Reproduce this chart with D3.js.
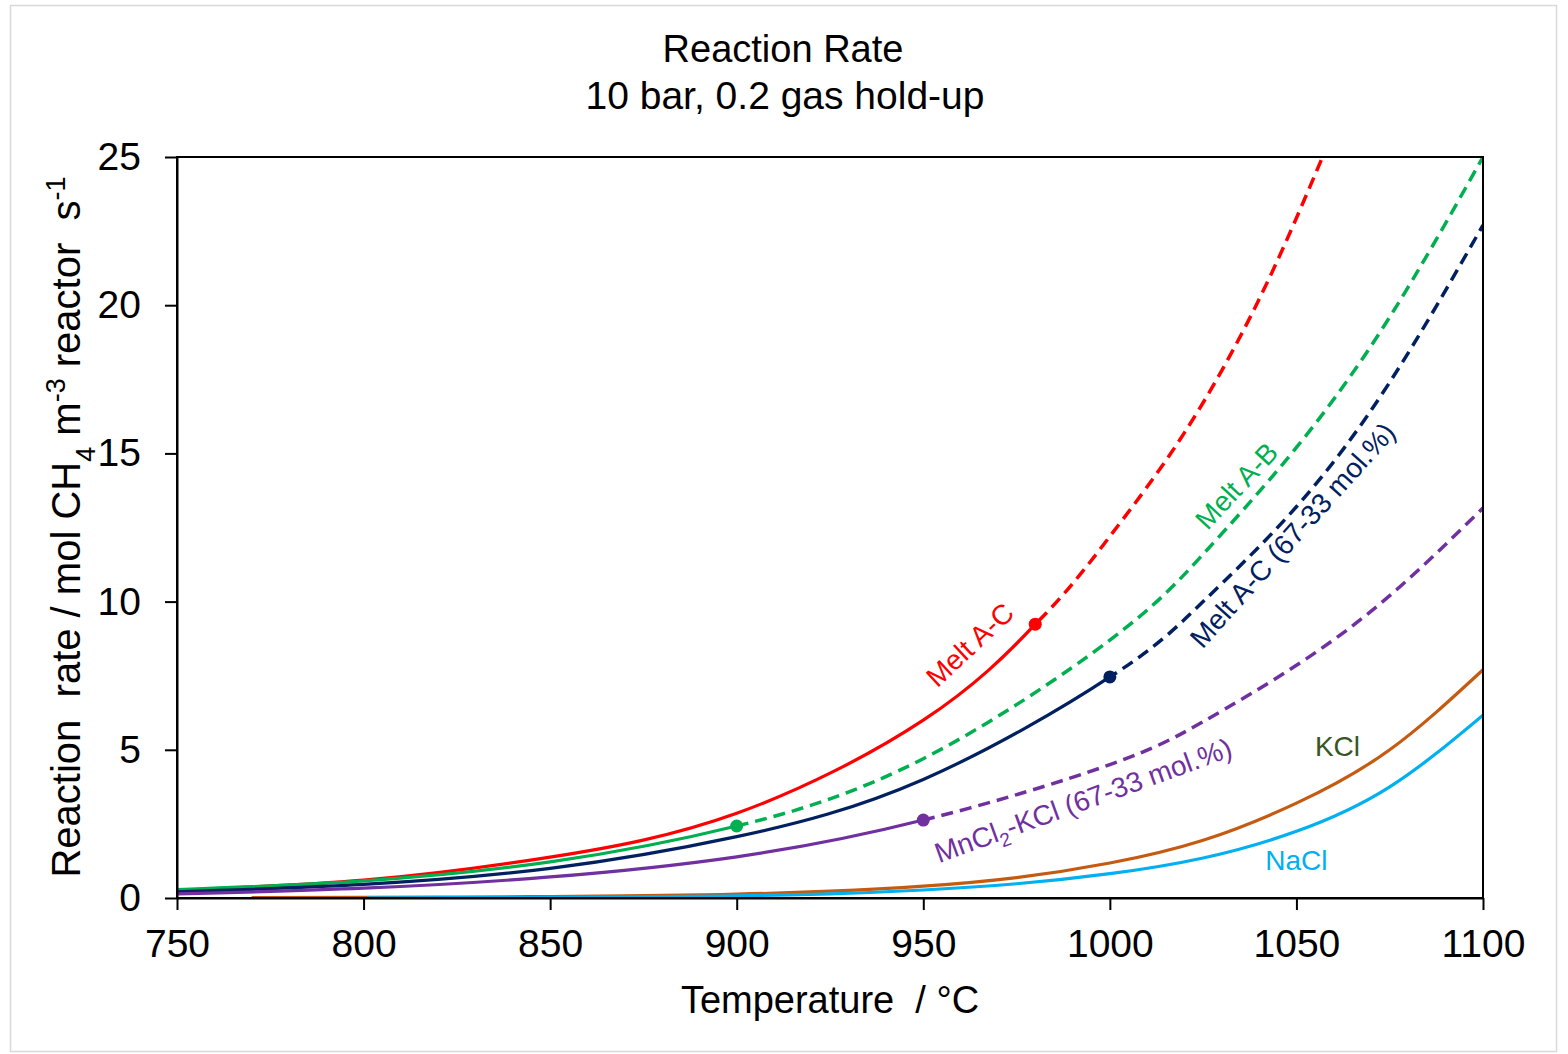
<!DOCTYPE html>
<html>
<head>
<meta charset="utf-8">
<script src="https://cdn.jsdelivr.net/npm/d3@7"></script>
<style>
  body { margin: 0; background: #fff; }
  svg text { font-family: "Liberation Sans", Arial, sans-serif; white-space: pre; }
</style>
</head>
<body>
<div id="chart"></div>
<script>
// Reaction rate (mol CH4 m-3 reactor s-1) vs temperature (°C)
var tempsMeltAC = [750, 800, 850, 900, 950, 980, 1000, 1020, 1040, 1057];
var rateMeltAC  = [0.27, 0.6, 1.38, 2.86, 6.0, 9.24, 12.2, 15.7, 20.2, 25];

var tempsMeltAB = [750, 800, 850, 900, 950, 1000, 1025, 1050, 1075, 1100];
var rateMeltAB  = [0.28, 0.58, 1.22, 2.43, 4.7, 8.7, 11.6, 15.2, 19.6, 25];

var tempsMeltAC6733 = [750, 800, 850, 900, 950, 1000, 1025, 1050, 1075, 1100];
var rateMeltAC6733  = [0.21, 0.46, 1.0, 2.07, 4.0, 7.46, 10.0, 13.2, 17.4, 22.7];

var tempsMnCl2KCl = [750, 800, 850, 900, 950, 1000, 1025, 1050, 1075, 1100];
var rateMnCl2KCl  = [0.14, 0.33, 0.71, 1.39, 2.63, 4.5, 5.95, 7.85, 10.2, 13.16];

var tempsKCl = [770, 800, 825, 850, 875, 900, 925, 950, 975, 1000, 1025, 1050, 1075, 1100];
var rateKCl  = [0.01, 0.02, 0.03, 0.05, 0.08, 0.13, 0.23, 0.4, 0.69, 1.18, 1.95, 3.2, 5.0, 7.7];

var tempsNaCl = [801, 825, 850, 875, 900, 925, 950, 975, 1000, 1025, 1050, 1075, 1100];
var rateNaCl  = [0.005, 0.01, 0.02, 0.035, 0.07, 0.14, 0.27, 0.48, 0.82, 1.35, 2.25, 3.75, 6.17];

var xTicks = [750, 800, 850, 900, 950, 1000, 1050, 1100];
var yTicks = [0, 5, 10, 15, 20, 25];

// solid up to "split", dashed after it; split = null means all solid
var series = [
  { name: "Melt A-C", t: tempsMeltAC, v: rateMeltAC, split: 980, color: "#ff0000" },
  { name: "Melt A-B", t: tempsMeltAB, v: rateMeltAB, split: 900, color: "#00b050" },
  { name: "Melt A-C (67-33 mol.%)", t: tempsMeltAC6733, v: rateMeltAC6733, split: 1000, color: "#002060" },
  { name: "MnCl2-KCl (67-33 mol.%)", t: tempsMnCl2KCl, v: rateMnCl2KCl, split: 950, color: "#7030a0" },
  { name: "KCl", t: tempsKCl, v: rateKCl, split: null, color: "#c55a11" },
  { name: "NaCl", t: tempsNaCl, v: rateNaCl, split: null, color: "#00b0f0" }
];

var W = 1568, H = 1054;
var margin = {top: 157, right: 85, bottom: 156, left: 177};

var svg = d3.select("#chart").append("svg")
    .attr("width", W)
    .attr("height", H);

// outer frame of the picture
svg.append("rect")
    .attr("x", 10.5).attr("y", 5.5)
    .attr("width", 1546).attr("height", 1046)
    .attr("fill", "#fff")
    .attr("stroke", "#d9d9d9")
    .attr("stroke-width", 1.5);

var x = d3.scaleLinear().domain([750, 1100]).range([margin.left, W - margin.right]);
var y = d3.scaleLinear().domain([0, 25]).range([H - margin.bottom, margin.top]);

svg.append("clipPath").attr("id", "plotclip")
  .append("rect")
    .attr("x", x(750)).attr("y", y(25))
    .attr("width", x(1100) - x(750)).attr("height", y(0) - y(25));

// lines - one smooth spline per series, the dashed part drawn over the same path
var line = d3.line()
    .x(function(d) { return x(d[0]); })
    .y(function(d) { return y(d[1]); })
    .curve(d3.curveNatural);

var g = svg.append("g").attr("clip-path", "url(#plotclip)");

series.forEach(function(s) {
  var pts = s.t.map(function(t, i) { return [t, s.v[i]]; });
  if (s.split === null) {
    g.append("path").attr("d", line(pts))
      .attr("fill", "none").attr("stroke", s.color).attr("stroke-width", 3.2);
  } else {
    // clip the full curve into the solid (left) and dashed (right) part
    var cid = "split" + s.split + s.color.slice(1);
    g.append("clipPath").attr("id", cid + "a").append("rect")
      .attr("x", 0).attr("y", 0).attr("width", x(s.split)).attr("height", H);
    g.append("clipPath").attr("id", cid + "b").append("rect")
      .attr("x", x(s.split)).attr("y", 0).attr("width", W).attr("height", H);
    g.append("path").attr("d", line(pts))
      .attr("clip-path", "url(#" + cid + "a)")
      .attr("fill", "none").attr("stroke", s.color).attr("stroke-width", 3.2);
    g.append("path").attr("d", line(pts.filter(function(p) { return p[0] >= s.split - 60; })))
      .attr("clip-path", "url(#" + cid + "b)")
      .attr("fill", "none").attr("stroke", s.color).attr("stroke-width", 3.5)
      .attr("stroke-dasharray", "12,7");
  }
});

// markers where measured range ends
series.filter(function(s) { return s.split !== null; }).forEach(function(s) {
  var i = s.t.indexOf(s.split);
  svg.append("circle")
    .attr("cx", x(s.t[i])).attr("cy", y(s.v[i]))
    .attr("r", 6.5).attr("fill", s.color);
});

// plot frame
svg.append("rect")
    .attr("x", x(750)).attr("y", y(25))
    .attr("width", x(1100) - x(750)).attr("height", y(0) - y(25))
    .attr("fill", "none").attr("stroke", "#000").attr("stroke-width", 2);

// axes
var xAxis = svg.append("g")
    .attr("transform", "translate(0," + y(0) + ")")
    .call(d3.axisBottom(x).tickValues(xTicks).tickFormat(d3.format("d"))
      .tickSize(12).tickSizeOuter(0).tickPadding(14));
var yAxis = svg.append("g")
    .attr("transform", "translate(" + x(750) + ",0)")
    .call(d3.axisLeft(y).tickValues(yTicks).tickFormat(d3.format("d"))
      .tickSize(12).tickSizeOuter(0).tickPadding(24));

[xAxis, yAxis].forEach(function(a) {
  a.select(".domain").attr("stroke", "#000").attr("stroke-width", 2);
  a.selectAll(".tick line").attr("stroke", "#000").attr("stroke-width", 2);
  a.selectAll(".tick text")
    .attr("fill", "#000")
    .style("font-size", "39px")
    .style("font-family", "'Liberation Sans', Arial, sans-serif");
});
xAxis.selectAll(".tick text").attr("dy", "0.85em");

// titles
svg.append("text")
    .attr("x", 783).attr("y", 62)
    .attr("text-anchor", "middle")
    .style("font-size", "38px")
    .text("Reaction Rate");
svg.append("text")
    .attr("x", 785).attr("y", 109)
    .attr("text-anchor", "middle")
    .style("font-size", "39px")
    .text("10 bar, 0.2 gas hold-up");

svg.append("text")
    .attr("x", 830).attr("y", 1013)
    .attr("text-anchor", "middle")
    .style("font-size", "38px")
    .text("Temperature  / °C");

var yt = svg.append("text")
    .attr("transform", "translate(80,527) rotate(-90)")
    .attr("text-anchor", "middle")
    .style("font-size", "40px");
yt.append("tspan").text("Reaction  rate / mol CH");
yt.append("tspan").attr("baseline-shift", "sub").style("font-size", "27px").text("4");
yt.append("tspan").text(" m");
yt.append("tspan").attr("baseline-shift", "super").style("font-size", "27px").text("-3");
yt.append("tspan").text(" reactor  s");
yt.append("tspan").attr("baseline-shift", "super").style("font-size", "27px").text("-1");

// curve labels (position given in data units)
function curveLabel(t, v, angle, color) {
  return svg.append("text")
    .attr("transform", "translate(" + x(t) + "," + y(v) + ") rotate(" + angle + ")")
    .attr("text-anchor", "middle")
    .attr("dominant-baseline", "central")
    .attr("fill", color)
    .style("font-size", "28px");
}
curveLabel(962.5, 8.54, -43, "#ff0000").text("Melt A-C");
curveLabel(1034, 13.9, -47, "#00b050").text("Melt A-B");
curveLabel(1049, 12.24, -48, "#002060").text("Melt A-C (67-33 mol.%)");
var mn = curveLabel(992.8, 3.3, -20, "#7030a0");
mn.append("tspan").text("MnCl");
mn.append("tspan").attr("baseline-shift", "sub").style("font-size", "19px").text("2");
mn.append("tspan").text("-KCl (67-33 mol.%)");
curveLabel(1061, 5.1, 0, "#375623").text("KCl");
curveLabel(1050, 1.28, 0, "#00b0f0").text("NaCl");
</script>
</body>
</html>
